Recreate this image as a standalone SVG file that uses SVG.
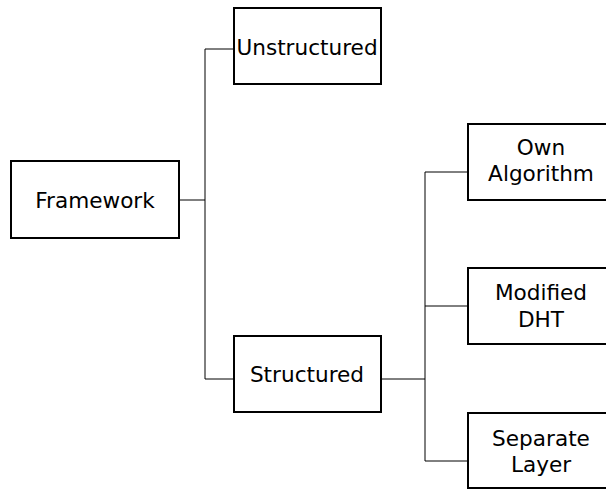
<svg xmlns="http://www.w3.org/2000/svg" width="606" height="489" viewBox="0 0 606 489">
<style>
.box{fill:#fff;stroke:#000;stroke-width:2}
.lbl{font-family:"DejaVu Sans",sans-serif;font-size:21.6px;fill:#000;text-anchor:middle}
.con{fill:none;stroke:#000;stroke-width:1}
</style>
<rect width="606" height="489" fill="#fff"/>
<g id="connectors">
<path class="con" d="M179 200H205M205 49V379M205 49H234M205 379H234"/>
<path class="con" d="M381 379H425M425 172V461M425 172H468M425 306H468M425 461H468"/>
</g>
<g id="framework"><rect class="box" x="11" y="161" width="168" height="77"/><text class="lbl" x="95" y="207.5">Framework</text></g>
<g id="unstructured"><rect class="box" x="234" y="8" width="147" height="76"/><text class="lbl" x="307" y="54.5">Unstructured</text></g>
<g id="structured"><rect class="box" x="234" y="336" width="147" height="76"/><text class="lbl" x="307" y="381.5">Structured</text></g>
<g id="own"><rect class="box" x="468" y="124" width="148" height="76"/><text class="lbl" x="541" y="155">Own</text><text class="lbl" x="541" y="181">Algorithm</text></g>
<g id="modified"><rect class="box" x="468" y="268" width="148" height="76"/><text class="lbl" x="541" y="300">Modified</text><text class="lbl" x="541" y="327">DHT</text></g>
<g id="separate"><rect class="box" x="468" y="413" width="148" height="75"/><text class="lbl" x="541" y="446">Separate</text><text class="lbl" x="541" y="472">Layer</text></g>
</svg>
